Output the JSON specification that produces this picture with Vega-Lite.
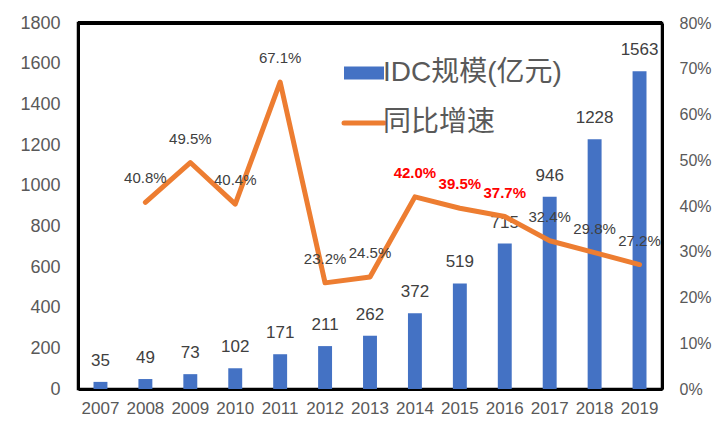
{
  "$schema": "https://vega.github.io/schema/vega-lite/v6.json",
  "width": 584,
  "height": 366,
  "autosize": {"type": "none"},
  "padding": {"left": 78, "top": 23, "right": 62, "bottom": 45},
  "background": "white",
  "config": {"font": "Liberation Sans", "view": {"stroke": "#000000", "strokeWidth": 2.5}},
  "data": {"values": [
    {"year": "2007", "idc": 35, "growth": null},
    {"year": "2008", "idc": 49, "growth": 0.408},
    {"year": "2009", "idc": 73, "growth": 0.495},
    {"year": "2010", "idc": 102, "growth": 0.404},
    {"year": "2011", "idc": 171, "growth": 0.671},
    {"year": "2012", "idc": 211, "growth": 0.232},
    {"year": "2013", "idc": 262, "growth": 0.245},
    {"year": "2014", "idc": 372, "growth": 0.420},
    {"year": "2015", "idc": 519, "growth": 0.395},
    {"year": "2016", "idc": 715, "growth": 0.377},
    {"year": "2017", "idc": 946, "growth": 0.324},
    {"year": "2018", "idc": 1228, "growth": 0.298},
    {"year": "2019", "idc": 1563, "growth": 0.272}
  ]},
  "layer": [
    {
      "encoding": {
        "y": {
          "field": "idc", "type": "quantitative",
          "scale": {"domain": [0, 1800], "nice": false},
          "axis": {"orient": "left", "title": null, "format": "d", "values": [0, 200, 400, 600, 800, 1000, 1200, 1400, 1600, 1800], "domain": true, "domainColor": "#000000", "domainWidth": 3, "ticks": false, "grid": false, "labelFontSize": 18, "labelColor": "#595959", "labelPadding": 18}
        }
      },
      "layer": [
        {
          "mark": {"type": "rule", "color": "#000000", "strokeWidth": 3},
          "encoding": {"y": {"datum": 1800}}
        },
        {
          "mark": {"type": "bar", "width": {"band": 0.31}},
          "encoding": {
            "x": {
              "field": "year", "type": "ordinal",
              "scale": {"paddingInner": 0, "paddingOuter": 0},
              "axis": {"title": null, "labelAngle": 0, "domain": true, "domainColor": "#000000", "domainWidth": 3, "ticks": false, "labelFontSize": 17, "labelColor": "#595959", "labelPadding": 11}
            },
            "color": {
              "datum": "IDC规模(亿元)",
              "scale": {"domain": ["IDC规模(亿元)", "同比增速"], "range": ["#4472C4", "#ED7D31"]},
              "legend": {
                "title": null,
                "orient": "none",
                "legendX": 272,
                "legendY": 36,
                "padding": 0,
                "symbolSize": 1600,
                "labelFontSize": 28,
                "labelColor": "#595959",
                "labelFont": "Liberation Sans, Noto Sans CJK SC",
                "labelLimit": 400,
                "labelOffset": 5,
                "rowPadding": 22,
                "encode": {
                  "symbols": {
                    "update": {
                      "shape": {"signal": "datum.value == '同比增速' ? 'M-1,0H1' : 'M-1,-0.33H1V0.33H-1Z'"},
                      "fill": {"signal": "datum.value == '同比增速' ? 'transparent' : '#4472C4'"},
                      "stroke": {"value": "#ED7D31"},
                      "strokeWidth": {"signal": "datum.value == '同比增速' ? 5 : 0"},
                      "strokeCap": {"value": "round"},
                      "opacity": {"value": 1}
                    }
                  }
                }
              }
            }
          }
        },
        {
          "mark": {"type": "text", "baseline": "alphabetic", "dy": -16, "fontSize": 17, "color": "#404040"},
          "encoding": {
            "x": {"field": "year", "type": "ordinal"},
            "text": {"field": "idc", "type": "quantitative"}
          }
        }
      ]
    },
    {
      "transform": [{"filter": "datum.growth != null"}],
      "encoding": {
        "x": {"field": "year", "type": "ordinal"},
        "y": {
          "field": "growth", "type": "quantitative",
          "scale": {"domain": [0, 0.8], "nice": false},
          "axis": {"orient": "right", "title": null, "format": ".0%", "values": [0, 0.1, 0.2, 0.3, 0.4, 0.5, 0.6, 0.7, 0.8], "domain": true, "domainColor": "#000000", "domainWidth": 3, "ticks": false, "grid": false, "labelFontSize": 16, "labelColor": "#595959", "labelPadding": 17}
        }
      },
      "layer": [
        {
          "mark": {"type": "line", "strokeWidth": 5, "strokeJoin": "round", "strokeCap": "round"},
          "encoding": {"color": {"datum": "同比增速"}}
        },
        {
          "transform": [{"filter": "datum.year < '2014' || datum.year > '2016'"}],
          "mark": {"type": "text", "baseline": "alphabetic", "dy": -19, "fontSize": 15, "color": "#404040"},
          "encoding": {"text": {"field": "growth", "type": "quantitative", "format": ".1%"}}
        },
        {
          "transform": [{"filter": "datum.year >= '2014' && datum.year <= '2016'"}],
          "mark": {"type": "text", "baseline": "alphabetic", "dy": -19, "fontSize": 15, "fontWeight": "bold", "color": "#FF0000"},
          "encoding": {"text": {"field": "growth", "type": "quantitative", "format": ".1%"}}
        }
      ]
    }
  ],
  "resolve": {"scale": {"y": "independent"}}
}
